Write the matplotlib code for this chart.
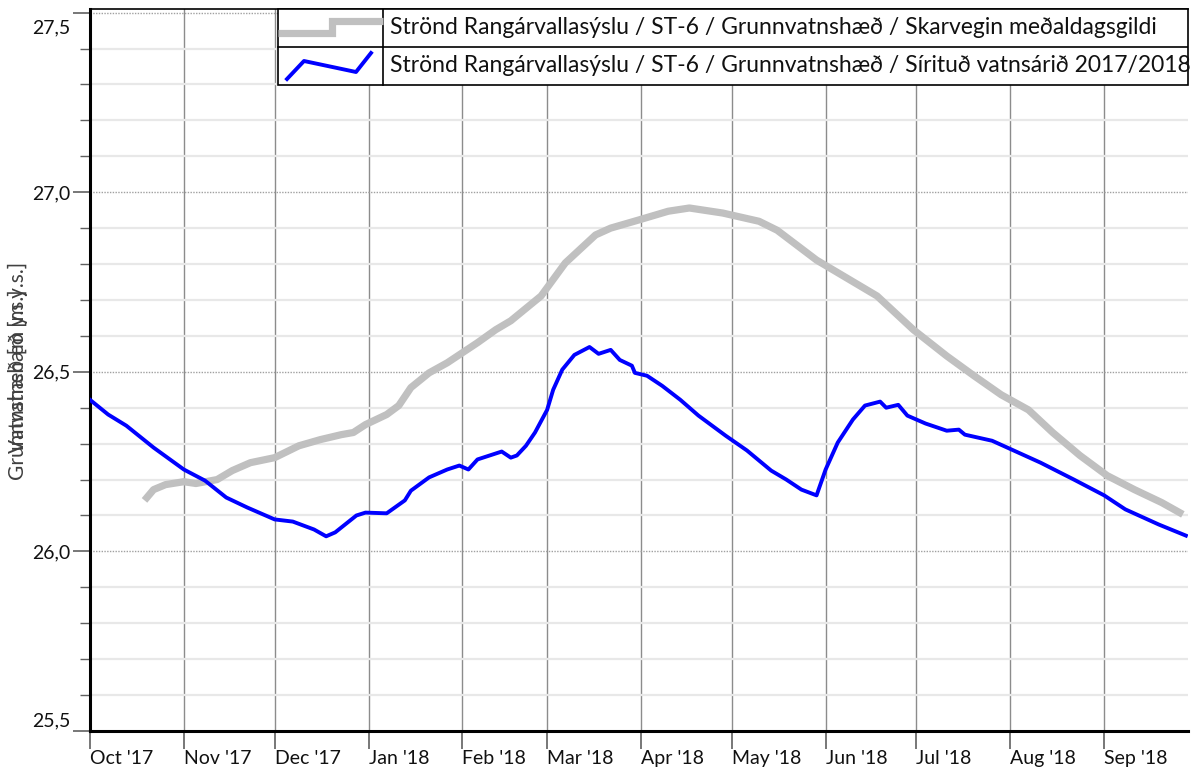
import matplotlib
matplotlib.use("Agg")
import matplotlib.pyplot as plt
import matplotlib.dates as mdates
import matplotlib.transforms as mtrans
from matplotlib.patches import Rectangle
from matplotlib.lines import Line2D
from matplotlib.ticker import MultipleLocator, FixedLocator
import numpy as np
import datetime as dt

plt.rcParams['font.family'] = ['Lato', 'DejaVu Sans']

# ---------------- data ----------------
median_dates = ["2017-10-19", "2017-10-22", "2017-10-26", "2017-11-01", "2017-11-05", "2017-11-12",
                "2017-11-17", "2017-11-23", "2017-12-01", "2017-12-09", "2017-12-16", "2017-12-23",
                "2017-12-27", "2017-12-31", "2018-01-07", "2018-01-11", "2018-01-15", "2018-01-21",
                "2018-01-27", "2018-02-01", "2018-02-06", "2018-02-12", "2018-02-17", "2018-02-27",
                "2018-03-07", "2018-03-17", "2018-03-22", "2018-03-31", "2018-04-10", "2018-04-17",
                "2018-04-28", "2018-05-10", "2018-05-16", "2018-05-29", "2018-06-09", "2018-06-18",
                "2018-06-30", "2018-07-11", "2018-07-20", "2018-07-29", "2018-08-07", "2018-08-15",
                "2018-08-24", "2018-09-02", "2018-09-11", "2018-09-20", "2018-09-27"]
median_values = [26.142, 26.172, 26.186, 26.194, 26.189, 26.200,
                 26.225, 26.247, 26.261, 26.294, 26.311, 26.325,
                 26.331, 26.353, 26.381, 26.406, 26.456, 26.497,
                 26.525, 26.553, 26.581, 26.617, 26.642, 26.711,
                 26.803, 26.881, 26.900, 26.922, 26.947, 26.956,
                 26.942, 26.919, 26.894, 26.811, 26.756, 26.711,
                 26.617, 26.544, 26.489, 26.436, 26.394, 26.331,
                 26.267, 26.211, 26.172, 26.136, 26.103]

record_dates = ["2017-10-01", "2017-10-07", "2017-10-13", "2017-10-22", "2017-11-01", "2017-11-08",
                "2017-11-15", "2017-11-22", "2017-12-01", "2017-12-07", "2017-12-14", "2017-12-18",
                "2017-12-21", "2017-12-28", "2017-12-31", "2018-01-07", "2018-01-13", "2018-01-15",
                "2018-01-21", "2018-01-27", "2018-01-31", "2018-02-03", "2018-02-06", "2018-02-14",
                "2018-02-17", "2018-02-19", "2018-02-22", "2018-02-25", "2018-03-01", "2018-03-03",
                "2018-03-06", "2018-03-10", "2018-03-15", "2018-03-18", "2018-03-22", "2018-03-25",
                "2018-03-29", "2018-03-30", "2018-04-03", "2018-04-08", "2018-04-14", "2018-04-20",
                "2018-04-29", "2018-05-06", "2018-05-14", "2018-05-19", "2018-05-24", "2018-05-29",
                "2018-06-01", "2018-06-05", "2018-06-10", "2018-06-14", "2018-06-19", "2018-06-21",
                "2018-06-25", "2018-06-28", "2018-07-04", "2018-07-11", "2018-07-15", "2018-07-17",
                "2018-07-26", "2018-07-31", "2018-08-11", "2018-08-22", "2018-09-01", "2018-09-08",
                "2018-09-19", "2018-09-28"]
record_values = [26.422, 26.381, 26.350, 26.289, 26.228, 26.197,
                 26.150, 26.122, 26.089, 26.083, 26.061, 26.042,
                 26.053, 26.100, 26.108, 26.106, 26.142, 26.169,
                 26.206, 26.228, 26.239, 26.228, 26.256, 26.278,
                 26.261, 26.267, 26.294, 26.331, 26.394, 26.450,
                 26.506, 26.547, 26.569, 26.550, 26.561, 26.533,
                 26.517, 26.497, 26.489, 26.461, 26.422, 26.378,
                 26.322, 26.281, 26.225, 26.200, 26.172, 26.156,
                 26.228, 26.303, 26.367, 26.406, 26.417, 26.400,
                 26.408, 26.378, 26.356, 26.336, 26.339, 26.325,
                 26.308, 26.289, 26.247, 26.200, 26.156, 26.117,
                 26.075, 26.044]

month_ticks = ["2017-10-01", "2017-11-01", "2017-12-01", "2018-01-01", "2018-02-01", "2018-03-01",
               "2018-04-01", "2018-05-01", "2018-06-01", "2018-07-01", "2018-08-01", "2018-09-01"]
month_labels = ["Oct '17", "Nov '17", "Dec '17", "Jan '18", "Feb '18", "Mar '18",
                "Apr '18", "May '18", "Jun '18", "Jul '18", "Aug '18", "Sep '18"]
y_ticks = [25.5, 26.0, 26.5, 27.0, 27.5]
y_tick_labels = ["25,5", "26,0", "26,5", "27,0", "27,5"]

legend_labels = ["Strönd Rangárvallasýslu / ST-6 / Grunnvatnshæð / Skarvegin meðaldagsgildi",
                 "Strönd Rangárvallasýslu / ST-6 / Grunnvatnshæð / Sírituð vatnsárið 2017/2018"]
ylabel_texts = ["Grunnvatnshæð [m y.s.]", "Vatnshæð [m y.s.]"]

# ---------------- figure ----------------
def to_dt(lst):
    return [dt.datetime.strptime(s, "%Y-%m-%d") for s in lst]

W, H = 1192, 771
fig = plt.figure(figsize=(W / 100, H / 100), dpi=100)
ax = fig.add_axes([90 / W, (H - 731) / H, 1098 / W, 722 / H])

grey = "#c0c0c0"
blue = "#0000ff"

ax.plot(to_dt(median_dates), median_values, color=grey, lw=5.2, solid_capstyle='butt', zorder=3)
ax.plot(to_dt(record_dates), record_values, color=blue, lw=2.8, zorder=4)

x0 = dt.datetime(2017, 10, 1)
x1 = x0 + dt.timedelta(days=362.7)
ax.set_xlim(x0, x1)
ax.set_ylim(25.5, 27.51)

# y axis ticks
ax.yaxis.set_major_locator(FixedLocator(y_ticks))
ax.set_yticklabels(y_tick_labels)
ax.yaxis.set_minor_locator(MultipleLocator(0.1))
ax.tick_params(axis='y', which='major', length=12, width=1.2, color="#606060",
               labelsize=14, pad=2, labelcolor="#111111")
ax.tick_params(axis='y', which='minor', length=7, width=1.0, color="#606060")

# the end labels are pulled inside, as in the reference
ylabs = ax.get_yticklabels()
ylabs[0].set_transform(ylabs[0].get_transform() + mtrans.ScaledTranslation(0, 12 / 100, fig.dpi_scale_trans))
ylabs[-1].set_transform(ylabs[-1].get_transform() + mtrans.ScaledTranslation(0, -14 / 100, fig.dpi_scale_trans))

# x axis ticks
ax.xaxis.set_major_locator(FixedLocator(mdates.date2num(to_dt(month_ticks))))
ax.set_xticklabels(month_labels, ha='left')
ax.tick_params(axis='x', which='major', length=13, width=1.2, color="#606060",
               labelsize=14, pad=1, labelcolor="#111111")

# grid
for yv in np.arange(25.6, 27.51, 0.1):
    if abs((yv * 2) - round(yv * 2)) < 1e-6:
        ax.axhline(yv, color="#a0a0a0", lw=1.0, ls=(0, (1, 1)), zorder=1)
    else:
        ax.axhline(yv, color="#e8e8e8", lw=1.6, zorder=1)
ax.grid(axis='x', which='major', color="#8c8c8c", lw=1.0, zorder=1)
ax.set_axisbelow(True)

ax.spines['right'].set_visible(False)
ax.spines['left'].set_linewidth(2.2)
ax.spines['bottom'].set_linewidth(2.2)
ax.spines['top'].set_linewidth(1.2)

# y labels (two overlapping, as in the reference)
for t in ylabel_texts:
    fig.text(18 / W, 1 - 371 / H, t, rotation=90, ha='center', va='center',
             fontsize=15, color="#404040")

# legend drawn as a table
T = ax.transAxes
lx0, lx1 = 188 / 1098, 1.0
ly_top, ly_mid, ly_bot = 1.0, 1 - 38 / 722, 1 - 76 / 722
xdiv = 293 / 1098
ax.add_patch(Rectangle((lx0, ly_bot), lx1 - lx0, ly_top - ly_bot, transform=T,
                       facecolor='white', edgecolor='black', lw=1.2, zorder=10, clip_on=False))
ax.add_line(Line2D([lx0, lx1], [ly_mid, ly_mid], transform=T, color='black', lw=1.2, zorder=11))
ax.add_line(Line2D([xdiv, xdiv], [ly_bot, ly_top], transform=T, color='black', lw=1.2, zorder=11))

def px(xp, yp):
    return ((xp - 90) / 1098, 1 - (yp - 9) / 722)

gx, gy = zip(*[px(278, 33), px(332, 33), px(332, 21), px(383, 21)])
ax.add_line(Line2D(gx, gy, transform=T, color=grey, lw=5.2, zorder=12,
                   solid_joinstyle='miter', solid_capstyle='butt', clip_on=False))
bx, by = zip(*[px(287, 79), px(304, 61), px(356, 72), px(371, 53)])
ax.add_line(Line2D(bx, by, transform=T, color=blue, lw=2.8, zorder=12, clip_on=False))

tx = 300 / 1098
ax.text(tx, (ly_top + ly_mid) / 2, legend_labels[0], transform=T, ha='left', va='center',
        fontsize=16.5, color="#111111", zorder=13)
ax.text(tx, (ly_mid + ly_bot) / 2, legend_labels[1], transform=T, ha='left', va='center',
        fontsize=16.5, color="#111111", zorder=13)

fig.savefig("out.png", dpi=100)
